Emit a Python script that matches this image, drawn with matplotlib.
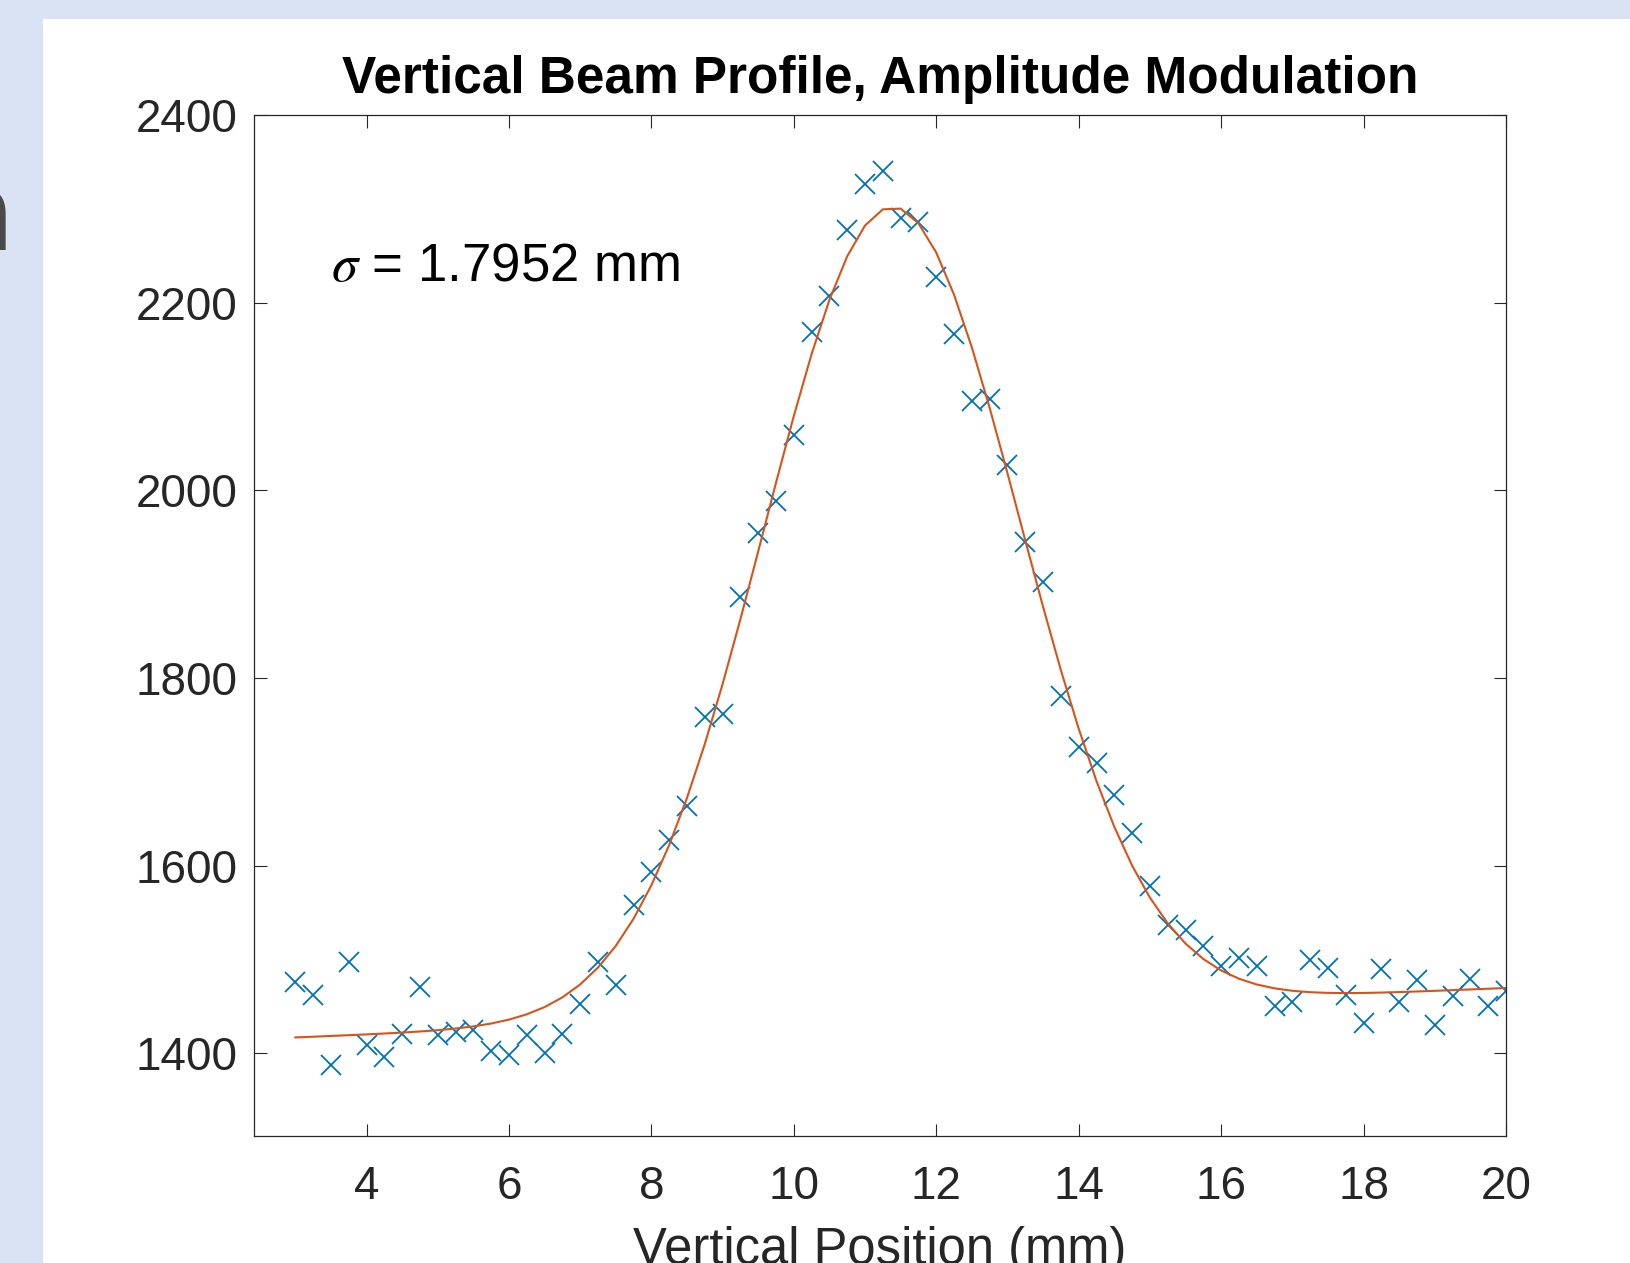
import numpy as np
import matplotlib
matplotlib.use('Agg')
import matplotlib.pyplot as plt
from matplotlib.patches import Rectangle

plt.rcParams['font.family'] = ['Liberation Sans', 'DejaVu Sans']
plt.rcParams['mathtext.fontset'] = 'stix'

pos_mm = np.arange(3.0, 20.001, 0.25)
signal = [1476, 1462, 1388, 1497, 1409, 1396, 1421, 1471, 1420, 1423,
          1425, 1403, 1398, 1420, 1400, 1421, 1453, 1497, 1473, 1558,
          1593, 1627, 1664, 1758, 1762, 1886, 1955, 1989, 2059, 2169,
          2207, 2277, 2326, 2340, 2290, 2286, 2227, 2167, 2095, 2097,
          2027, 1945, 1902, 1781, 1727, 1710, 1675, 1635, 1578, 1537,
          1532, 1514, 1493, 1502, 1493, 1451, 1455, 1500, 1491, 1462,
          1432, 1490, 1455, 1478, 1430, 1461, 1479, 1450, 1466]

# gaussian fit on a sloped baseline (parameters)
fit_amp = 859.0
fit_center = 11.375
fit_sigma = 1.7952
fit_offset = 1417.0
fit_slope = 3.1

fit = fit_offset + fit_slope * (pos_mm - pos_mm[0]) + \
    fit_amp * np.exp(-(pos_mm - fit_center)**2 / (2 * fit_sigma**2))

fig = plt.figure(figsize=(16.3, 12.63), dpi=100)
fig.patch.set_facecolor('#dae3f3')
# white slide panel
fig.patches.append(Rectangle((43/1630, 0), 1 - 43/1630, 1 - 19/1263,
                             transform=fig.transFigure, facecolor='white',
                             edgecolor='none', zorder=-1))
# bit of a letter peeking in from the left edge
fig.text(14/1630, 1 - 250/1263, 'n', fontsize=78, fontweight='bold',
         color='#4a4a4a', ha='right', va='baseline', family='DejaVu Sans')

ax = fig.add_axes([254/1630, 127/1263, 1252/1630, 1021/1263])
ax.plot(pos_mm, signal, linestyle='none', marker='x', markersize=15,
        markeredgewidth=1.3, color='#0072BD')
ax.plot(pos_mm, fit, color='#D95319', linewidth=1.5)

ax.set_xlim(2.42, 20)
ax.set_ylim(1312, 2400)
ax.set_xticks(range(4, 21, 2))
ax.set_yticks(range(1400, 2401, 200))

for s in ax.spines.values():
    s.set_color('#262626')
    s.set_linewidth(0.9)
ax.tick_params(direction='in', top=True, right=True, length=9, width=0.8,
               color='#262626', labelcolor='#262626', labelsize=33)
ax.tick_params(axis='x', pad=21)
ax.tick_params(axis='y', pad=12)

ax.set_title('Vertical Beam Profile, Amplitude Modulation', fontsize=37,
             fontweight='bold', pad=16)
ax.set_xlabel('Vertical Position (mm)', fontsize=36.5, color='#262626',
              labelpad=12)

ax.text(3.5, 2223, r'$\sigma$ = 1.7952 mm', fontsize=38, ha='left',
        va='baseline')

fig.savefig('out.png', dpi=100, facecolor=fig.get_facecolor())
